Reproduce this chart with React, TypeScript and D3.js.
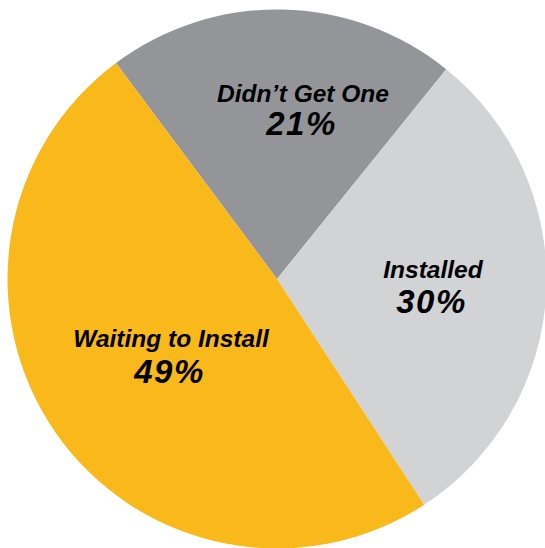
import React from "react";
import * as d3 from "d3";

const categories = ["Didn\u2019t Get One", "Installed", "Waiting to Install"];
const values = [21, 30, 49];
const valueLabels = ["21%", "30%", "49%"];

const colors = ["#939598", "#D1D3D4", "#F9B91A"];
// label anchor points (layout only): [x, name baseline, value baseline]
const labelPos: [number, number, number][] = [
  [303, 102, 134.5],
  [433, 278, 313],
  [171, 346.5, 382.5],
];

const W = 545;
const H = 548;
const cx = 277;
const cy = 279;
const R = 269.5;
const startDeg = -36.7;

export default function App() {
  const pie = d3
    .pie<number>()
    .sort(null)
    .startAngle((startDeg * Math.PI) / 180)
    .endAngle((startDeg * Math.PI) / 180 + 2 * Math.PI);
  const arcs = pie(values);
  const arc = d3.arc<d3.PieArcDatum<number>>().innerRadius(0).outerRadius(R);

  return (
    <svg
      width={W}
      height={H}
      style={{ position: "absolute", left: 0, top: 0, display: "block" }}
    >
      <rect width={W} height={H} fill="#ffffff" />
      <g transform={`translate(${cx},${cy})`}>
        {arcs.map((a, i) => (
          <path key={i} d={arc(a) || ""} fill={colors[i]} />
        ))}
      </g>
      {categories.map((c, i) => (
        <g key={c} fontFamily="'Liberation Sans', Arial, Helvetica, sans-serif" fontWeight="bold" fontStyle="italic" fill="#000" textAnchor="middle">
          <text x={labelPos[i][0]} y={labelPos[i][1]} fontSize={24.5}>
            {c}
          </text>
          <text x={labelPos[i][0] - 1.5} y={labelPos[i][2]} fontSize={33} letterSpacing={1.5}>
            {valueLabels[i]}
          </text>
        </g>
      ))}
    </svg>
  );
}
